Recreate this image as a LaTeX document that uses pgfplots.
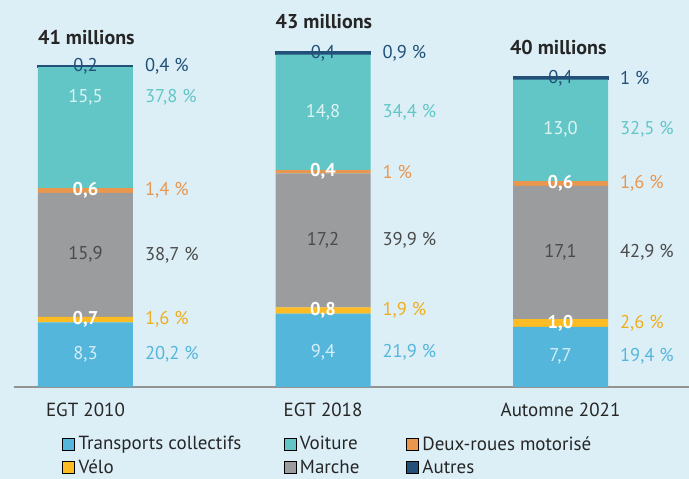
\documentclass[border=0pt]{standalone}
\usepackage{pgfplots}
\pgfplotsset{compat=1.18}
\usetikzlibrary{calc,backgrounds}
\usepackage{fontspec}
\setmainfont{PT Sans}
\definecolor{bg}{HTML}{DCEFF7}
\definecolor{tc}{HTML}{55B6DB}
\definecolor{voit}{HTML}{63C6C6}
\definecolor{drm}{HTML}{E9964F}
\definecolor{velo}{HTML}{FDBC23}
\definecolor{marche}{HTML}{9A9C9D}
\definecolor{autres}{HTML}{225078}
\definecolor{txt}{HTML}{262626}
\definecolor{mlab}{HTML}{4A4A4A}
\definecolor{pvelo}{HTML}{F0AE1E}
\definecolor{tclab}{HTML}{D6EEF7}
\definecolor{voitlab}{HTML}{DDF4F3}
\tikzset{
  lab/.style={font=\fontsize{18.5}{18.5}\selectfont, inner sep=0pt},
  blab/.style={font=\fontsize{18.5}{18.5}\selectfont\bfseries, inner sep=0pt, text=white},
  plab/.style={font=\fontsize{18.5}{18.5}\selectfont, inner sep=0pt, anchor=west},
  tot/.style={font=\fontsize{20}{20}\selectfont\bfseries, inner sep=0pt, anchor=west, text=txt},
}
\pgfplotsset{
  sqleg/.style={legend image code/.code={\fill[##1] (0pt,-6pt) rectangle (12pt,6pt);}},
  geom/.style={scale only axis, width=675pt, height=351pt,
    xmin=-0.301, xmax=2.541, ymin=0, ymax=45, clip=false},
}
\begin{document}
\begin{tikzpicture}
\begin{axis}[
  name=ax, geom,
  ybar stacked, bar width=95pt,
  axis x line=bottom, axis y line=none,
  x axis line style={-, draw=gray!85, line width=1.3pt},
  xtick={0,1,2}, xticklabels={EGT 2010, EGT 2018, Automne 2021},
  major tick length=0pt,
  xticklabel style={font=\fontsize{19}{19}\selectfont, text=txt, yshift=-12pt},
]
\addplot[fill=tc, draw=none] coordinates {(0,8.3) (1,9.4) (2,7.7)};
\addplot[fill=velo, draw=none] coordinates {(0,0.7) (1,0.8) (2,1.0)};
\addplot[fill=marche, draw=none] coordinates {(0,15.9) (1,17.2) (2,17.1)};
\addplot[fill=drm, draw=none] coordinates {(0,0.6) (1,0.4) (2,0.6)};
\addplot[fill=voit, draw=none] coordinates {(0,15.5) (1,14.8) (2,13.0)};
\addplot[fill=autres, draw=autres, line width=1pt] coordinates {(0,0.2) (1,0.4) (2,0.4)};
\coordinate (O) at (axis cs:-0.301,0);
\end{axis}
\begin{axis}[
  at={(ax.south west)}, anchor=south west, geom, hide axis,
  legend columns=3,
  legend style={draw=none, fill=none, inner sep=0pt,
    at={(axis description cs:0.0711,-0.140)}, anchor=north west,
    font=\fontsize{19}{19}\selectfont, text=txt,
    nodes={inner sep=0pt, anchor=west},
    row sep=8.5pt},
  legend cell align=left,
]
\addlegendimage{sqleg, fill=tc}
\addlegendentry{\hspace{4pt}\makebox[205pt][l]{Transports collectifs}}
\addlegendimage{sqleg, fill=voit}
\addlegendentry{\hspace{4pt}\makebox[106pt][l]{Voiture}}
\addlegendimage{sqleg, fill=drm}
\addlegendentry{\hspace{4pt}Deux-roues motorisé}
\addlegendimage{sqleg, fill=velo}
\addlegendentry{\hspace{4pt}\makebox[205pt][l]{Vélo}}
\addlegendimage{sqleg, fill=marche}
\addlegendentry{\hspace{4pt}\makebox[106pt][l]{Marche}}
\addlegendimage{sqleg, fill=autres}
\addlegendentry{\hspace{4pt}Autres}
% totals
\node[tot] at (axis cs:-0.2,44.8) {41 millions};
\node[tot] at (axis cs:0.8,46.9) {43 millions};
\node[tot] at (axis cs:1.787,43.5) {40 millions};
% bar 1
\node[lab, text=tclab] at (axis cs:0,4.15) {8,3};
\node[blab] at (axis cs:0,8.65) {0,7};
\node[lab, text=mlab] at (axis cs:0,16.95) {15,9};
\node[blab] at (axis cs:0,25.2) {0,6};
\node[lab, text=voitlab] at (axis cs:0,37.2) {15,5};
\node[lab, text=autres] at (axis cs:0,41.1) {0,2};
% bar 2
\node[lab, text=tclab] at (axis cs:1,4.5) {9,4};
\node[blab] at (axis cs:1,9.8) {0,8};
\node[lab, text=mlab] at (axis cs:1,18.8) {17,2};
\node[blab] at (axis cs:1,27.6) {0,4};
\node[lab, text=voitlab] at (axis cs:1,35.2) {14,8};
\node[lab, text=autres] at (axis cs:1,42.8) {0,4};
% bar 3
\node[lab, text=tclab] at (axis cs:2,3.95) {7,7};
\node[blab] at (axis cs:2,8.2) {1,0};
\node[lab, text=mlab] at (axis cs:2,17.25) {17,1};
\node[blab] at (axis cs:2,26.1) {0,6};
\node[lab, text=voitlab] at (axis cs:2,33.0) {13,0};
\node[lab, text=autres] at (axis cs:2,39.6) {0,4};
% percentages
\node[plab, text=tc] at (axis cs:0.25,4.15) {20,2 \%};
\node[plab, text=pvelo] at (axis cs:0.25,8.65) {1,6 \%};
\node[plab, text=mlab] at (axis cs:0.25,16.95) {38,7 \%};
\node[plab, text=drm] at (axis cs:0.25,25.2) {1,4 \%};
\node[plab, text=voit] at (axis cs:0.25,37.2) {37,8 \%};
\node[plab, text=autres] at (axis cs:0.25,41.1) {0,4 \%};
\node[plab, text=tc] at (axis cs:1.25,4.5) {21,9 \%};
\node[plab, text=pvelo] at (axis cs:1.25,9.8) {1,9 \%};
\node[plab, text=mlab] at (axis cs:1.25,18.8) {39,9 \%};
\node[plab, text=drm] at (axis cs:1.25,27.6) {1 \%};
\node[plab, text=voit] at (axis cs:1.25,35.2) {34,4 \%};
\node[plab, text=autres] at (axis cs:1.25,42.8) {0,9 \%};
\node[plab, text=tc] at (axis cs:2.25,3.95) {19,4 \%};
\node[plab, text=pvelo] at (axis cs:2.25,8.2) {2,6 \%};
\node[plab, text=mlab] at (axis cs:2.25,17.25) {42,9 \%};
\node[plab, text=drm] at (axis cs:2.25,26.1) {1,6 \%};
\node[plab, text=voit] at (axis cs:2.25,33.0) {32,5 \%};
\node[plab, text=autres] at (axis cs:2.25,39.6) {1 \%};
\end{axis}
\begin{pgfonlayer}{background}
\fill[bg] ($(O)+(-14pt,-92pt)$) rectangle ++(689pt,479pt);
\end{pgfonlayer}
\pgfresetboundingbox
\useasboundingbox ($(O)+(-14pt,-92pt)$) rectangle ++(689pt,479pt);
\end{tikzpicture}
\end{document}
